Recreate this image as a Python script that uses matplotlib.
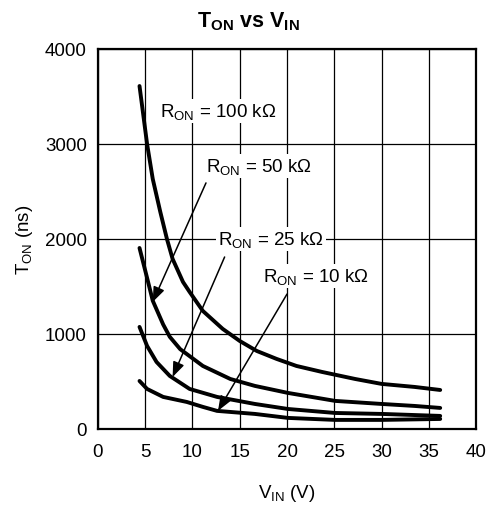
import matplotlib
matplotlib.use("Agg")
import matplotlib.pyplot as plt

plt.rcParams['font.family'] = ['Liberation Sans', 'DejaVu Sans']
plt.rcParams['mathtext.fontset'] = 'custom'
plt.rcParams['mathtext.rm'] = 'Liberation Sans'
plt.rcParams['mathtext.it'] = 'Liberation Sans'
plt.rcParams['mathtext.bf'] = 'Liberation Sans:bold'

# Data
v_100k = [4.4, 5.2, 5.8, 6.6, 7.3, 7.9, 9.0, 9.7, 11.1, 13.2, 15.0, 16.8, 18.9, 21.0, 23.7, 27.2, 30.0, 33.5, 36.2]
t_100k = [3610, 3000, 2632, 2284, 2000, 1790, 1547, 1442, 1242, 1053, 926, 821, 737, 663, 600, 526, 474, 442, 410]
v_50k = [4.4, 5.2, 5.8, 6.9, 7.6, 8.7, 11.1, 14.0, 16.6, 20.1, 25.1, 30.0, 33.5, 36.2]
t_50k = [1905, 1590, 1350, 1100, 970, 840, 663, 526, 453, 379, 295, 263, 242, 221]
v_25k = [4.4, 5.2, 6.2, 7.6, 9.7, 12.6, 16.6, 20.1, 25.1, 30.0, 36.2]
t_25k = [1074, 874, 705, 558, 421, 337, 263, 210, 168, 158, 137]
v_10k = [4.4, 5.2, 6.9, 9.4, 11.1, 12.6, 16.6, 20.1, 25.1, 30.0, 36.2]
t_10k = [505, 421, 337, 284, 232, 190, 158, 116, 95, 95, 105]

x_ticks = [0, 5, 10, 15, 20, 25, 30, 35, 40]
y_ticks = [0, 1000, 2000, 3000, 4000]

fig = plt.figure(figsize=(4.97, 5.10), dpi=100)
ax = fig.add_axes([0.197, 0.157, 0.761, 0.745])

for v, t in [(v_100k, t_100k), (v_50k, t_50k), (v_25k, t_25k), (v_10k, t_10k)]:
    ax.plot(v, t, color='black', lw=2.8, solid_capstyle='round',
            solid_joinstyle='round', zorder=3)

ax.set_xlim(0, 40)
ax.set_ylim(0, 4000)
ax.set_xticks(x_ticks)
ax.set_yticks(y_ticks)
ax.grid(True, color='black', lw=0.9)
ax.tick_params(length=0, labelsize=13.5)
ax.tick_params(axis='x', pad=10)
ax.tick_params(axis='y', pad=8)
for s in ax.spines.values():
    s.set_linewidth(1.6)

fig.text(0.5, 0.957, r'T$_{\mathbf{ON}}$ vs V$_{\mathbf{IN}}$', fontsize=15.5,
         fontweight='bold', ha='center', va='center')
ax.set_xlabel(r'V$_{\mathrm{IN}}$ (V)', fontsize=13.5, va='center')
ax.xaxis.set_label_coords(0.5, -0.168)
ax.set_ylabel(r'T$_{\mathrm{ON}}$ (ns)', fontsize=13.5, va='center')
ax.yaxis.set_label_coords(-0.193, 0.5)

bbox = dict(boxstyle='square,pad=0.1', fc='white', ec='none')
fs = 13.5
ax.text(6.56, 3295, r'R$_{\mathrm{ON}}$ = 100 k$\Omega$', fontsize=fs,
        va='baseline', ha='left', bbox=bbox, zorder=4)
ax.text(11.43, 2716, r'R$_{\mathrm{ON}}$ = 50 k$\Omega$', fontsize=fs,
        va='baseline', ha='left', bbox=bbox, zorder=4)
ax.text(12.7, 1947, r'R$_{\mathrm{ON}}$ = 25 k$\Omega$', fontsize=fs,
        va='baseline', ha='left', bbox=bbox, zorder=4)
ax.text(17.46, 1558, r'R$_{\mathrm{ON}}$ = 10 k$\Omega$', fontsize=fs,
        va='baseline', ha='left', bbox=bbox, zorder=4)

ap = dict(arrowstyle='-|>,head_length=0.9,head_width=0.35', color='black',
          lw=1.1, shrinkA=0, shrinkB=0)
ax.annotate('', xy=(5.8, 1337), xytext=(11.43, 2590), arrowprops=ap, zorder=5)
ax.annotate('', xy=(7.9, 547), xytext=(13.4, 1810), arrowprops=ap, zorder=5)
ax.annotate('', xy=(12.7, 190), xytext=(20.0, 1420), arrowprops=ap, zorder=5)

fig.savefig('out.png', dpi=100)
